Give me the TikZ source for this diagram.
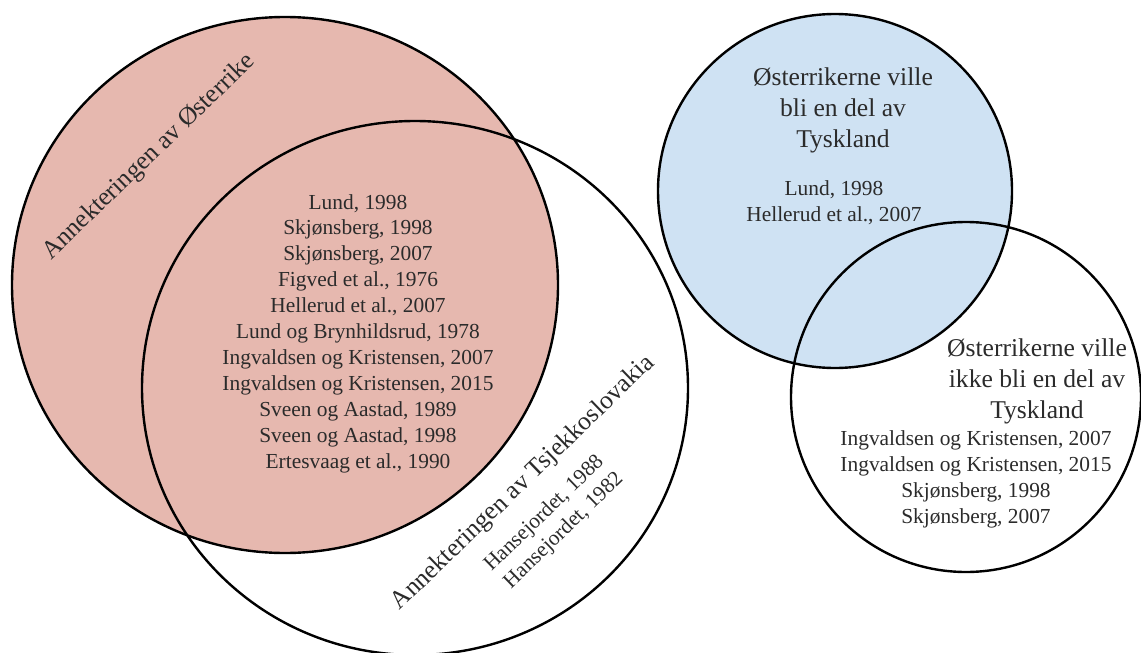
\documentclass[tikz,border=0pt]{standalone}
\usepackage{fontspec}
\setmainfont{Liberation Serif}
\definecolor{berry}{HTML}{E6B8AF}
\definecolor{skyfill}{HTML}{CFE2F3}
\definecolor{ink}{HTML}{2B2B2B}
\begin{document}
\begin{tikzpicture}[x=1pt,y=-1pt,
  ring/.style={draw=black,line width=2.4pt},
  hdr/.style={inner sep=0pt,text=ink,align=center,font=\fontsize{25.6}{31}\selectfont},
  refs/.style={inner sep=0pt,text=ink,align=center,font=\fontsize{21.4}{25.9}\selectfont}]
\useasboundingbox (0,0) rectangle (1141,653);

% Left pair of sets
\fill[berry] (285,285) ellipse [x radius=273pt, y radius=268pt];
\draw[ring] (285,285) ellipse [x radius=273pt, y radius=268pt];
\draw[ring] (415,388) ellipse [x radius=273pt, y radius=267pt];

% Right pair of sets
\fill[skyfill] (835,191) circle [radius=177pt];
\draw[ring] (835,191) circle [radius=177pt];
\draw[ring] (966,397) circle [radius=175pt];

% Set labels and sources (multi-line nodes are anchored at their last baseline)
\node[hdr,rotate=44,anchor=base] (austria) at (153.5,161.5) {Annekteringen av Østerrike};
\node[refs,anchor=base] (austrialist) at (358,468) {Lund, 1998\\Skjønsberg, 1998\\Skjønsberg, 2007\\Figved et al., 1976\\Hellerud et al., 2007\\Lund og Brynhildsrud, 1978\\Ingvaldsen og Kristensen, 2007\\Ingvaldsen og Kristensen, 2015\\Sveen og Aastad, 1989\\Sveen og Aastad, 1998\\Ertesvaag et al., 1990};

\node[hdr,rotate=44,anchor=base] (czech) at (527.5,487.5) {Annekteringen av Tsjekkoslovakia};
\node[refs,rotate=44,anchor=base] (czech1) at (548,517.5) {Hansejordet, 1988};
\node[refs,rotate=44,anchor=base] (czech2) at (567.5,534.5) {Hansejordet, 1982};

\node[hdr,anchor=base] (yes) at (843,147) {Østerrikerne ville\\bli en del av\\Tyskland};
\node[refs,anchor=base] (yeslist) at (834,221) {Lund, 1998\\Hellerud et al., 2007};

\node[hdr,anchor=base] (no) at (1037,418) {Østerrikerne ville\\ikke bli en del av\\Tyskland};
\node[refs,anchor=base] (nolist) at (976,523) {Ingvaldsen og Kristensen, 2007\\Ingvaldsen og Kristensen, 2015\\Skjønsberg, 1998\\Skjønsberg, 2007};
\end{tikzpicture}
\end{document}
